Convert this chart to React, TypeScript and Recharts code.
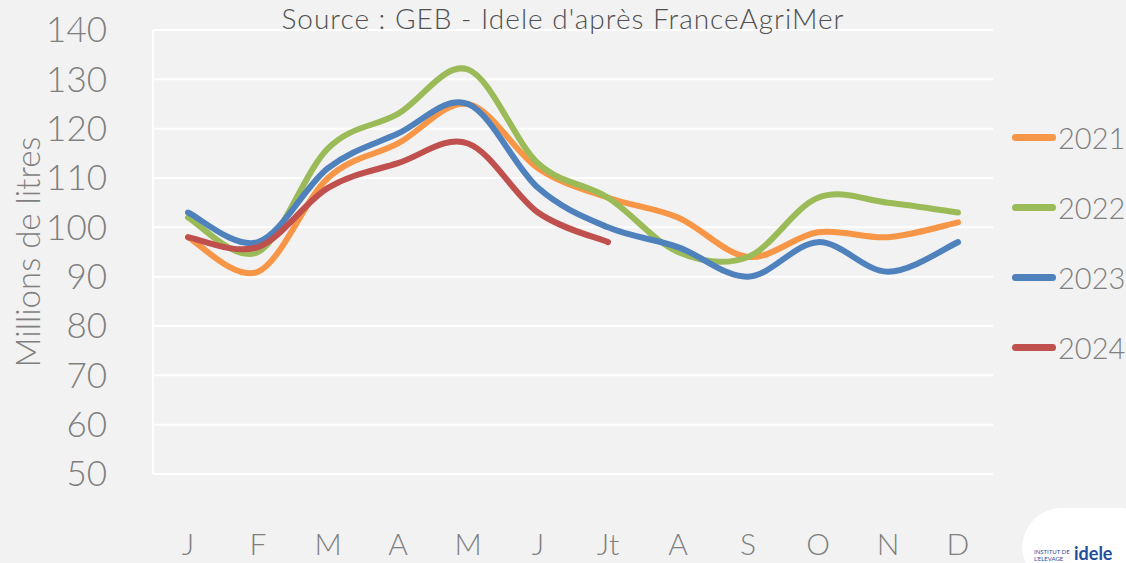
import { CartesianGrid, Line, LineChart, XAxis, YAxis } from "recharts";

const months = ["J", "F", "M", "A", "M", "J", "Jt", "A", "S", "O", "N", "D"];
const y2021 = [98, 91, 110, 117, 125, 112, 106, 102, 94, 99, 98, 101];
const y2022 = [102, 95, 116, 123, 132, 113, 106, 95, 94, 106, 105, 103];
const y2023 = [103, 97, 112, 119, 125, 108, 100, 96, 90, 97, 91, 97];
const y2024 = [98, 96, 108, 113, 117, 103, 97, null, null, null, null, null];
const yTicks = [50, 60, 70, 80, 90, 100, 110, 120, 130, 140];

const series = [
  { key: "2021", color: "#f79646", values: y2021 },
  { key: "2022", color: "#9bbb59", values: y2022 },
  { key: "2023", color: "#4f81bd", values: y2023 },
  { key: "2024", color: "#c0504d", values: y2024 },
];

const data = months.map((m, i) => {
  const row: Record<string, string | number | null> = { month: m };
  series.forEach((s) => (row[s.key] = s.values[i]));
  return row;
});

const FONT = "Lato, 'DejaVu Sans', sans-serif";
const GREY = "#7f7f7f";

// smoothed like Excel's "lissage" (catmull-rom style bezier)
// eslint-disable-next-line @typescript-eslint/no-explicit-any
function smooth(context: any) {
  let pts: [number, number][] = [];
  return {
    areaStart() {},
    areaEnd() {},
    lineStart() {
      pts = [];
    },
    point(x: number, y: number) {
      pts.push([+x, +y]);
    },
    lineEnd() {
      if (!pts.length) return;
      context.moveTo(pts[0][0], pts[0][1]);
      for (let i = 0; i < pts.length - 1; i++) {
        const p0 = pts[i - 1] || pts[i];
        const p1 = pts[i];
        const p2 = pts[i + 1];
        const p3 = pts[i + 2] || p2;
        context.bezierCurveTo(
          p1[0] + (p2[0] - p0[0]) / 6,
          p1[1] + (p2[1] - p0[1]) / 6,
          p2[0] - (p3[0] - p1[0]) / 6,
          p2[1] - (p3[1] - p1[1]) / 6,
          p2[0],
          p2[1]
        );
      }
    },
  };
}

function LegendBox() {
  return (
    <div style={{ position: "absolute", left: 1012, top: 102, fontFamily: FONT, fontWeight: 300 }}>
      {series.map((s) => (
        <div key={s.key} style={{ display: "flex", alignItems: "center", height: 70 }}>
          <span
            style={{
              width: 44,
              height: 7,
              borderRadius: 4,
              background: s.color,
              display: "inline-block",
              marginRight: 2,
            }}
          />
          <span style={{ fontSize: 29, color: GREY }}>{s.key}</span>
        </div>
      ))}
    </div>
  );
}

export default function App() {
  return (
    <div
      style={{
        position: "absolute",
        left: 0,
        top: 0,
        width: 1126,
        height: 563,
        background: "#f2f2f2",
        overflow: "hidden",
      }}
    >
      <LineChart
        width={1126}
        height={563}
        data={data}
        margin={{ top: 30, right: 133, bottom: 0, left: 0 }}
      >
        <CartesianGrid stroke="#ffffff" strokeWidth={2} vertical={false} />
        <XAxis
          dataKey="month"
          height={89}
          padding={{ left: 35, right: 35 }}
          axisLine={{ stroke: "#ffffff", strokeWidth: 2 }}
          tickLine={false}
          tickSize={0}
          tickMargin={60}
          interval={0}
          tick={{ fill: GREY, fontSize: 30, fontFamily: FONT, fontWeight: 300 }}
        />
        <YAxis
          width={153}
          domain={[50, 140]}
          ticks={yTicks}
          interval={0}
          axisLine={{ stroke: "#ffffff", strokeWidth: 2 }}
          tickLine={false}
          tickSize={0}
          tickMargin={46}
          tick={{ fill: GREY, fontSize: 35, fontFamily: FONT, fontWeight: 300 }}
          label={{
            value: "Millions de litres",
            angle: -90,
            position: "insideLeft",
            offset: 28,
            style: { textAnchor: "middle", fill: GREY, fontSize: 33, fontFamily: FONT, fontWeight: 300 },
          }}
        />
        {series.map((s) => (
          <Line
            key={s.key}
            dataKey={s.key}
            name={s.key}
            type={smooth}
            stroke={s.color}
            strokeWidth={6}
            strokeLinecap="round"
            dot={false}
            activeDot={false}
            connectNulls={false}
            isAnimationActive={false}
          />
        ))}
      </LineChart>
      <div
        style={{
          position: "absolute",
          top: 1,
          left: 0,
          width: 1126,
          textAlign: "center",
          fontFamily: FONT,
          fontWeight: 300,
          fontSize: 28,
          lineHeight: "normal",
          letterSpacing: 1,
          color: "#505050",
        }}
      >
        Source : GEB - Idele d'après FranceAgriMer
      </div>
      <LegendBox />
      <div
        style={{
          position: "absolute",
          left: 1022,
          top: 508,
          width: 110,
          height: 70,
          background: "#ffffff",
          borderRadius: "40px 10px 0 30px",
          fontFamily: FONT,
        }}
      >
        <span style={{ position: "absolute", left: 12, top: 40, fontSize: 6, color: "#1f4e9c", lineHeight: "7px" }}>
          INSTITUT DE
          <br />
          L'ELEVAGE
        </span>
        <span style={{ position: "absolute", left: 52, top: 34, fontSize: 18, fontWeight: 700, color: "#1f4e9c" }}>
          idele
        </span>
      </div>
    </div>
  );
}
